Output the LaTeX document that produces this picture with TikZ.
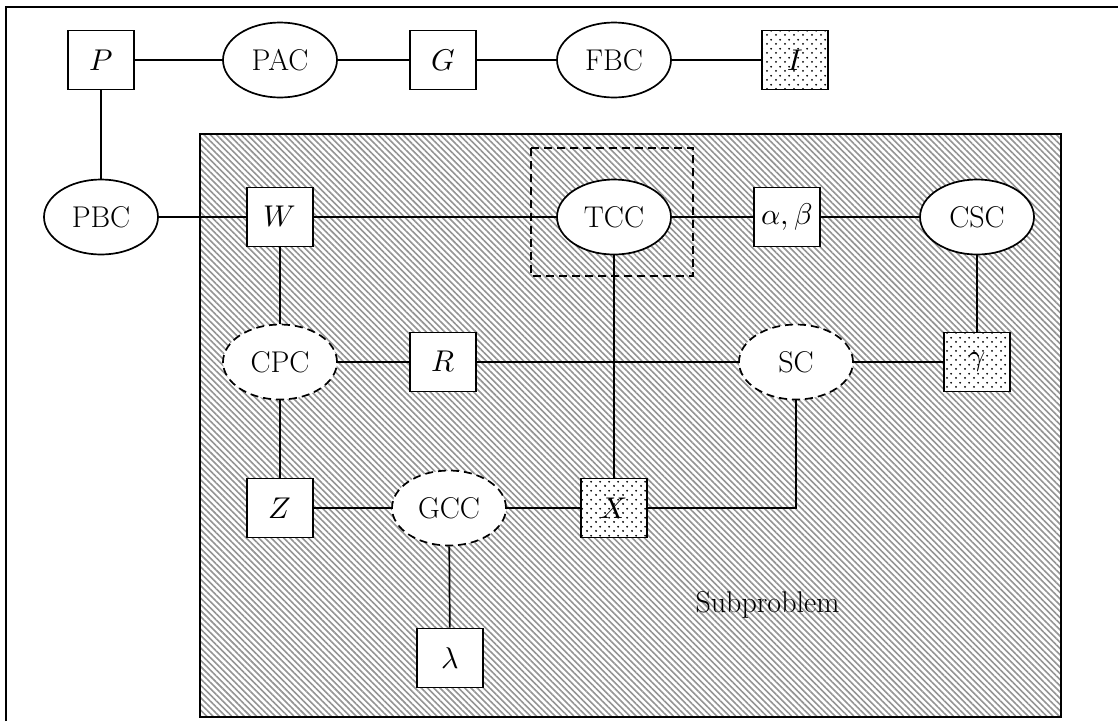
\documentclass[tikz,border=0pt]{standalone}
\usepackage{fontspec}
\usepackage{unicode-math}
\setmathfont{Latin Modern Math}
\usetikzlibrary{shapes.geometric,patterns,patterns.meta}
\pgfdeclarepatternformonly{stagdots}{\pgfqpoint{0pt}{0pt}}{\pgfqpoint{9pt}{9pt}}{\pgfqpoint{9pt}{9pt}}{%
  \pgfpathcircle{\pgfqpoint{2.25pt}{2.25pt}}{1.1pt}%
  \pgfpathcircle{\pgfqpoint{6.75pt}{6.75pt}}{1.1pt}%
  \pgfusepath{fill}}
\tikzset{
  lbl/.style={font=\fontsize{30}{35}\selectfont},
  boxnode/.style={draw, line width=1.7pt, fill=white, minimum width=66pt, minimum height=59pt, inner sep=0pt, lbl},
  dotbox/.style={boxnode, postaction={pattern=stagdots, pattern color=black}},
  ellnode/.style={draw, ellipse, line width=1.7pt, fill=white, minimum width=114pt, minimum height=75pt, inner sep=0pt, lbl},
  dellnode/.style={ellnode, dash pattern=on 8pt off 5pt},
  conn/.style={line width=1.7pt},
}
\begin{document}
\begin{tikzpicture}[x=1pt,y=-1pt]
\useasboundingbox (0,0) rectangle (1118,721);
% outer frame (cut off at right and bottom)
\draw[line width=2.5pt] (6,721) -- (6,7) -- (1118,7);
% subproblem hatched region
\fill[white] (200,134) rectangle (1061,717);
\pattern[pattern={Lines[angle=-45,distance=4.4pt,line width=1.6pt]}, pattern color=black!42] (200,134) rectangle (1061,717);
\draw[line width=2pt] (200,134) rectangle (1061,717);
% dashed box around TCC
\draw[line width=1.7pt, dash pattern=on 8pt off 5pt] (531,148) rectangle (693,276);

% nodes
\node[boxnode] (P) at (101,60) {$P$};
\node[ellnode] (PAC) at (280,60) {PAC};
\node[boxnode] (G) at (443,60) {$G$};
\node[ellnode] (FBC) at (614,60) {FBC};
\node[dotbox] (I) at (795,60) {$I$};

\node[ellnode] (PBC) at (101,217) {PBC};
\node[boxnode] (W) at (280,217) {$W$};
\node[ellnode] (TCC) at (614,217) {TCC};
\node[boxnode] (AB) at (787,217) {$\alpha,\beta$};
\node[ellnode] (CSC) at (977,217) {CSC};

\node[dellnode] (CPC) at (280,362) {CPC};
\node[boxnode] (R) at (443,362) {$R$};
\node[dellnode] (SC) at (796,362) {SC};
\node[dotbox] (GAM) at (977,362) {$\gamma$};

\node[boxnode] (Z) at (280,508) {$Z$};
\node[dellnode] (GCC) at (449,508) {GCC};
\node[dotbox] (X) at (614,508) {$X$};
\node[boxnode] (LAM) at (450,658) {$\lambda$};

\node[lbl, anchor=west] (SUB) at (692,605) {Subproblem};

% connectors
\draw[conn] (P) -- (PAC);
\draw[conn] (PAC) -- (G);
\draw[conn] (G) -- (FBC);
\draw[conn] (FBC) -- (I);
\draw[conn] (P) -- (PBC);
\draw[conn] (PBC) -- (W);
\draw[conn] (W) -- (TCC);
\draw[conn] (TCC) -- (AB);
\draw[conn] (AB) -- (CSC);
\draw[conn] (CSC) -- (GAM);
\draw[conn] (W) -- (CPC);
\draw[conn] (CPC) -- (R);
\draw[conn] (R) -- (SC);
\draw[conn] (SC) -- (GAM);
\draw[conn] (TCC) -- (X);
\draw[conn] (CPC) -- (Z);
\draw[conn] (Z) -- (GCC);
\draw[conn] (GCC) -- (X);
\draw[conn] (X) -| (SC);
\draw[conn] (GCC) -- (LAM);
\end{tikzpicture}
\end{document}
